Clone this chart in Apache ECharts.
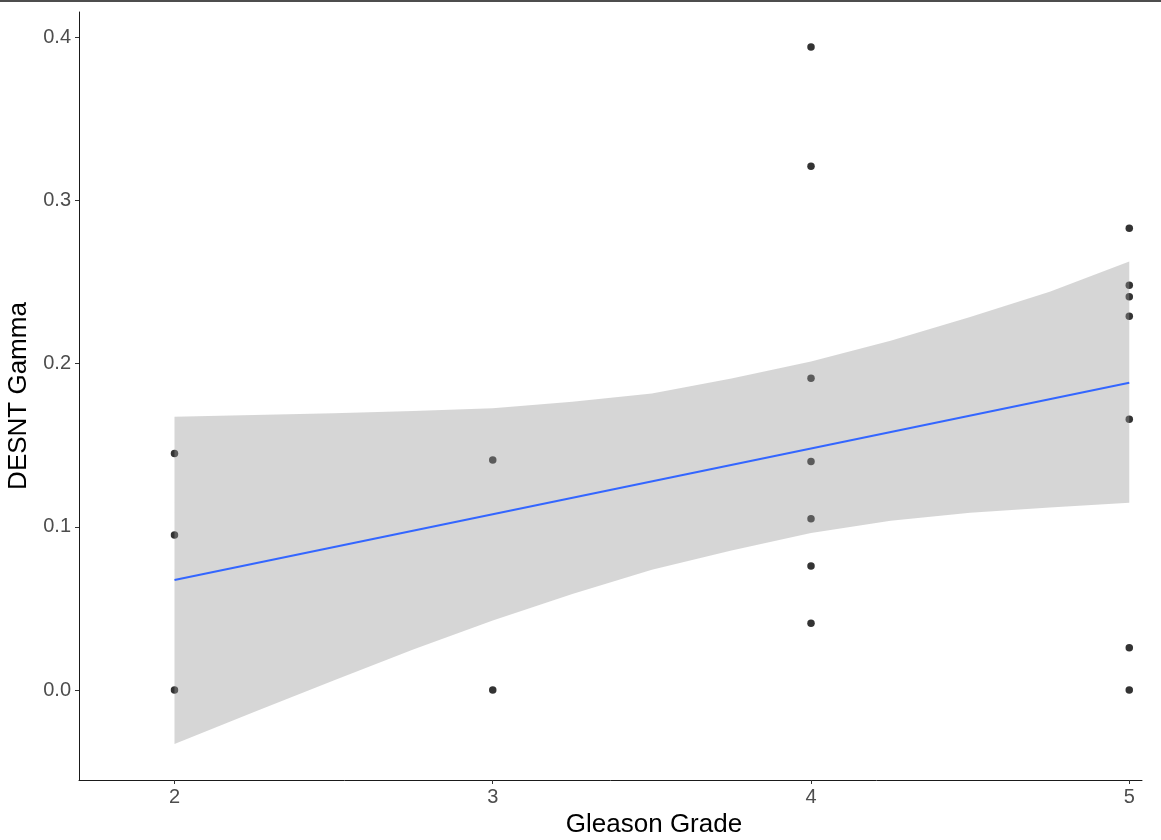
<!DOCTYPE html>
<html>
<head>
<meta charset="utf-8">
<script src="https://cdn.jsdelivr.net/npm/echarts@6/dist/echarts.min.js"></script>
<style>
html,body{margin:0;padding:0;background:#fff;}
#chart{width:1161px;height:840px;}
</style>
</head>
<body>
<div id="chart"></div>
<script>
// Observations
const grades = [2, 2, 2, 3, 3, 4, 4, 4, 4, 4, 4, 4, 5, 5, 5, 5, 5, 5, 5];
const gamma  = [0.145, 0.095, 0.0, 0.141, 0.0, 0.394, 0.321, 0.191, 0.140, 0.105, 0.076, 0.041, 0.283, 0.248, 0.241, 0.229, 0.166, 0.026, 0.0];

// Linear fit
const fitX = [2, 5];
const fitY = [0.0674, 0.1883];

// Confidence band
const bandX     = [2, 2.25, 2.5, 2.75, 3, 3.25, 3.5, 3.75, 4, 4.25, 4.5, 4.75, 5];
const bandUpper = [0.1675, 0.1686, 0.1696, 0.1710, 0.1727, 0.1767, 0.1818, 0.1909, 0.2013, 0.2140, 0.2286, 0.2441, 0.2626];
const bandLower = [-0.0331, -0.0135, 0.0059, 0.0249, 0.0426, 0.0588, 0.0737, 0.0856, 0.0962, 0.1038, 0.1086, 0.1119, 0.1148];

// Ticks
const xTicks = [2, 3, 4, 5];
const yTicks = [0, 0.1, 0.2, 0.3, 0.4];

const chart = echarts.init(document.getElementById('chart'), null, {renderer: 'canvas'});

const pointData = grades.map((g, i) => [g, gamma[i]]);
const fitData = fitX.map((x, i) => [x, fitY[i]]);
const bandData = bandX.map((x, i) => [x, bandLower[i], bandUpper[i]]);

const FONT = '"Liberation Sans", Arial, sans-serif';

chart.setOption({
  animation: false,
  backgroundColor: '#ffffff',
  grid: {left: 79, top: 12, right: 19, bottom: 60, containLabel: false, outerBoundsMode: 'none'},
  xAxis: {
    type: 'value',
    min: 1.7,
    max: 5.04,
    name: 'Gleason Grade',
    nameLocation: 'middle',
    nameGap: 26,
    nameTextStyle: {fontFamily: FONT, fontSize: 26, color: '#000', padding: [0, 0, 0, 87]},
    axisLine: {show: true, onZero: false, lineStyle: {color: '#1a1a1a', width: 1}},
    axisTick: {show: true, length: 4, customValues: xTicks, lineStyle: {color: '#333', width: 1}},
    axisLabel: {show: true, customValues: xTicks, margin: 7, fontFamily: FONT, fontSize: 20, color: '#4D4D4D',
      formatter: v => String(v)},
    splitLine: {show: false}
  },
  yAxis: {
    type: 'value',
    min: -0.0551,
    max: 0.4155,
    name: 'DESNT Gamma',
    nameLocation: 'middle',
    nameRotate: 90,
    nameGap: 37,
    nameTextStyle: {fontFamily: FONT, fontSize: 26, color: '#000'},
    axisLine: {show: true, onZero: false, lineStyle: {color: '#1a1a1a', width: 1}},
    axisTick: {show: true, length: 4, customValues: yTicks, lineStyle: {color: '#333', width: 1}},
    axisLabel: {show: true, customValues: yTicks, margin: 8, fontFamily: FONT, fontSize: 20, color: '#4D4D4D',
      formatter: v => v.toFixed(1)},
    splitLine: {show: false}
  },
  graphic: [{
    type: 'line',
    shape: {x1: 0, y1: 1, x2: 1161, y2: 1},
    style: {stroke: '#4d4d4d', lineWidth: 2}
  }],
  series: [
    {
      type: 'scatter',
      data: pointData,
      symbol: 'circle',
      symbolSize: 7.5,
      itemStyle: {color: '#000000'},
      z: 1,
      silent: true
    },
    {
      type: 'custom',
      data: bandData,
      z: 2,
      silent: true,
      clip: true,
      renderItem: function (params, api) {
        if (params.dataIndex !== 0) return null;
        const pts = [];
        for (let i = 0; i < bandX.length; i++) pts.push(api.coord([bandX[i], bandUpper[i]]));
        for (let i = bandX.length - 1; i >= 0; i--) pts.push(api.coord([bandX[i], bandLower[i]]));
        return {
          type: 'polygon',
          shape: {points: pts},
          style: {fill: 'rgba(153,153,153,0.4)', stroke: null}
        };
      }
    },
    {
      type: 'line',
      data: fitData,
      showSymbol: false,
      symbol: 'none',
      lineStyle: {color: '#3366FF', width: 2},
      z: 3,
      silent: true
    }
  ]
});
</script>
</body>
</html>
